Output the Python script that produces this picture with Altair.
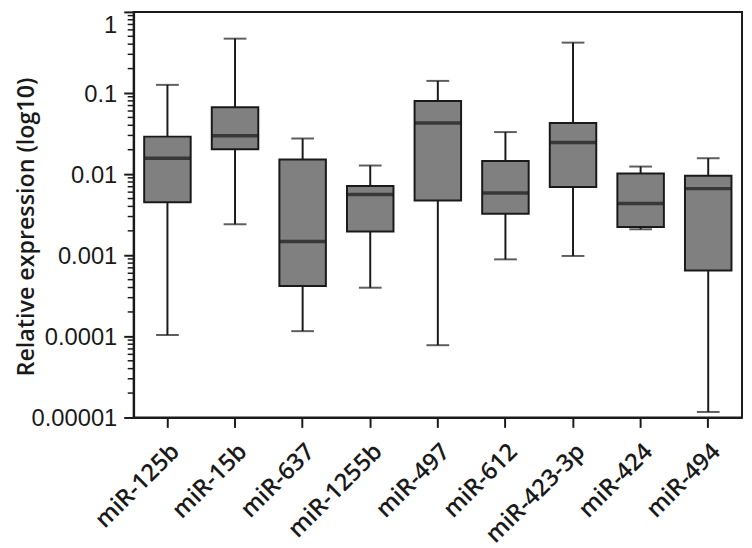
import altair as alt
import pandas as pd

genes = ["miR-125b", "miR-15b", "miR-637", "miR-1255b", "miR-497",
         "miR-612", "miR-423-3p", "miR-424", "miR-494"]
whisker_low = [0.000104, 0.00241, 0.000116, 0.000398, 0.0000778, 0.00089, 0.00098, 0.00209, 0.0000117]
q1 = [0.0045, 0.0202, 0.000417, 0.00196, 0.00473, 0.00325, 0.00694, 0.00223, 0.000648]
median = [0.0157, 0.0297, 0.00148, 0.0056, 0.0428, 0.00586, 0.0246, 0.00435, 0.00663]
q3 = [0.029, 0.0666, 0.0151, 0.00714, 0.0795, 0.01456, 0.0428, 0.0102, 0.00955]
whisker_high = [0.126, 0.468, 0.0275, 0.01277, 0.141, 0.033, 0.418, 0.0124, 0.0157]

y_major_ticks = [0.00001, 0.0001, 0.001, 0.01, 0.1, 1]
y_minor_ticks = [m * 10.0 ** e for e in range(-5, 0) for m in range(2, 10)]

df = pd.DataFrame({"gene": genes, "lo": whisker_low, "q1": q1, "med": median,
                   "q3": q3, "hi": whisker_high})
minor_df = pd.DataFrame({"v": y_minor_ticks})

FONT = "Open Sans"
TICKFONT = "Liberation Sans"
INK = "#1a1a1a"

yscale = alt.Scale(type="log", domain=[0.00001, 1], nice=False)
yaxis = alt.Axis(title="Relative expression (log10)", values=y_major_ticks,
                 labelExpr="format(datum.value, '.5~f')",
                 labelFont=TICKFONT, labelFontSize=24, labelColor=INK,
                 labelOffset={"condition": {"test": "datum.value >= 1", "value": 14},
                              "value": 1.5},
                 labelPadding=7, tickSize=10, tickWidth=2, tickColor=INK,
                 domainColor=INK, domainWidth=2, grid=False,
                 titleFont=FONT, titleFontSize=23.5, titleFontWeight=600,
                 titleColor=INK, titleAngle=-90, titleX=-101, titleY=217,
                 titleAlign="center", titleBaseline="alphabetic")
xaxis = alt.Axis(title=None, labelAngle=-45, labelFontSize=24, labelFontWeight=600,
                 labelFont=FONT, labelColor=INK, tickSize=10, tickWidth=2,
                 tickColor=INK, domainColor=INK, domainWidth=2, labelPadding=12)
xenc = alt.X("gene:N", sort=genes, scale=alt.Scale(paddingInner=0, paddingOuter=0), axis=xaxis)

base = alt.Chart(df)

whisk = base.mark_rule(color=INK, strokeWidth=2).encode(
    x=xenc, y=alt.Y("lo:Q", scale=yscale, axis=yaxis), y2="hi:Q")
cap_lo = base.mark_tick(color=INK, size=23, thickness=2).encode(
    x=xenc, y=alt.Y("lo:Q", scale=yscale, axis=yaxis))
cap_hi = base.mark_tick(color=INK, size=23, thickness=2).encode(
    x=xenc, y=alt.Y("hi:Q", scale=yscale, axis=yaxis))
box = base.mark_bar(width=47, color="#808080", stroke=INK, strokeWidth=2).encode(
    x=xenc, y=alt.Y("q1:Q", scale=yscale, axis=yaxis), y2="q3:Q")
med = base.mark_tick(color=INK, size=47, thickness=3.5).encode(
    x=xenc, y=alt.Y("med:Q", scale=yscale, axis=yaxis))
minor = alt.Chart(minor_df).mark_rule(color=INK, strokeWidth=1.5).encode(
    y=alt.Y("v:Q", scale=yscale, axis=yaxis), x=alt.value(-6), x2=alt.value(0))

chart = alt.layer(whisk, cap_lo, cap_hi, box, med, minor).properties(
    width=615, height=410,
    autosize=alt.AutoSizeParams(type="none"),
    padding={"left": 127, "top": 1, "right": 2, "bottom": 129},
).configure_view(stroke=INK, strokeWidth=2)

chart.save("out.html", embed_options={"renderer": "svg", "actions": False})
